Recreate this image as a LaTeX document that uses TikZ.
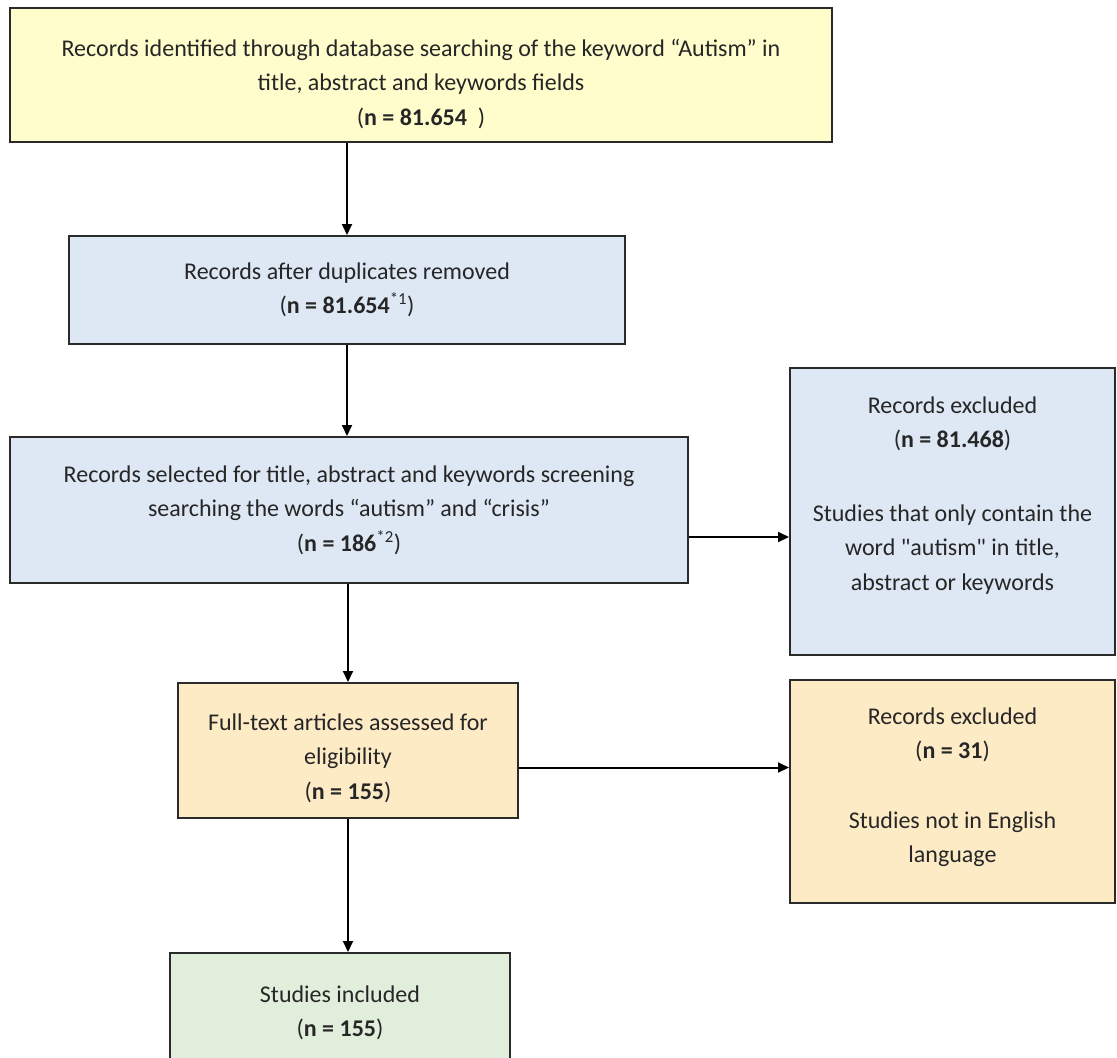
\documentclass[tikz,border=0pt]{standalone}
\usepackage{fontspec}
\setmainfont{Carlito}
\newfontfamily\plainq{Carlito}[Ligatures=TeXOff]
\usetikzlibrary{arrows.meta}
\definecolor{cyel}{HTML}{FFFDCC}
\definecolor{cblu}{HTML}{DDE8F4}
\definecolor{corg}{HTML}{FDEBC6}
\definecolor{cgrn}{HTML}{E1EEDC}
\definecolor{cedge}{HTML}{2A2A2A}
\begin{document}
\begin{tikzpicture}[x=1pt,y=-1pt,
  box/.style={draw=cedge,line width=2pt,inner sep=0pt,align=center,
    font=\fontsize{24}{34.5}\selectfont,text=black!85},
  arr/.style={draw=black,line width=2pt,-{Triangle[length=11pt,width=10pt]}}]
\useasboundingbox (0,0) rectangle (1117,1058);
\clip (0,0) rectangle (1117,1058);
\node[box,fill=cyel,minimum width=822pt,minimum height=134pt] (b1) at (421,75)
  {Records identified through database searching of the keyword “Autism” in\\
   title, abstract and keywords fields\\ (\textbf{n = 81.654}\ \ )\\[-48.5pt]};
\node[box,fill=cblu,minimum width=556pt,minimum height=108pt] (b2) at (347,290)
  {Records after duplicates removed\\ (\textbf{n = 81.654}\textsuperscript{*1})};
\node[box,fill=cblu,minimum width=678pt,minimum height=146pt] (b3) at (349,510)
  {Records selected for title, abstract and keywords screening\\
   searching the words “autism” and “crisis”\\ (\textbf{n = 186}\textsuperscript{*2})};
\node[box,fill=cblu,minimum width=325pt,minimum height=287pt] (b4) at (952.5,511.5)
  {Records excluded\\ (\textbf{n = 81.468})\\[39pt]
   Studies that only contain the\\ word {\plainq"}autism{\plainq"} in title,\\ abstract or keywords\\[2pt]};
\node[box,fill=corg,minimum width=325pt,minimum height=223pt] (b6) at (952.5,791.5)
  {Records excluded\\ (\textbf{n = 31})\\[35pt] Studies not in English\\ language\\[-22pt]};
\node[box,fill=corg,minimum width=340pt,minimum height=135pt] (b5) at (348,750.5)
  {Full-text articles assessed for\\ eligibility\\ (\textbf{n = 155})\\[-46.5pt]};
\node[box,fill=cgrn,minimum width=340pt,minimum height=136pt,anchor=north] (b7) at (340,952)
  {\\[-82pt]Studies included\\ (\textbf{n = 155})};
\draw[arr] (b1.south -| b2.north) -- (b2.north);
\draw[arr] (b2.south) -- (b2.south |- b3.north);
\draw[arr] (b3.south -| b5.north) -- (b5.north);
\draw[arr] ([yshift=-27pt]b3.east) -- ([yshift=-27pt]b3.east -| b4.west);
\draw[arr] ([yshift=-17pt]b5.east) -- ([yshift=-17pt]b5.east -| b6.west);
\draw[arr] (b5.south) -- (b5.south |- b7.north);
\end{tikzpicture}
\end{document}
